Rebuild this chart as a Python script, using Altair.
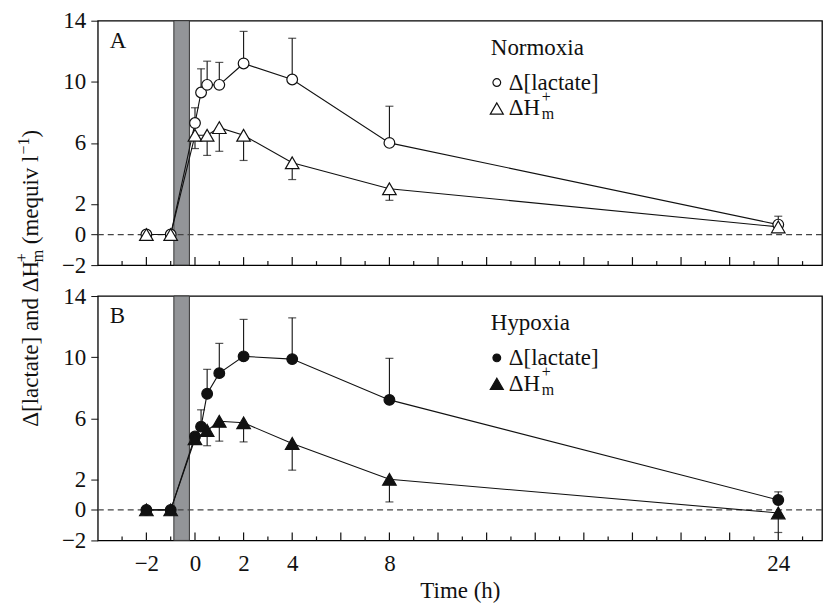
import altair as alt
import pandas as pd

# ---------------- data ----------------
# Normoxia (panel A)
t_lac_n = [-2, -1, 0, 0.25, 0.5, 1, 2, 4, 8, 24]
lac_n = [0.0, 0.0, 7.3, 9.3, 9.8, 9.8, 11.2, 10.15, 6.0, 0.65]
lac_n_err = [0, 0, 1.0, 1.55, 1.55, 1.47, 2.1, 2.7, 2.4, 0.55]      # upward SE
t_h_n = [-2, -1, 0, 0.5, 1, 2, 4, 8, 24]
h_n = [0.0, 0.0, 6.5, 6.5, 7.0, 6.5, 4.7, 3.0, 0.5]
h_n_err = [0, 0, 0.87, 1.32, 1.55, 1.65, 1.1, 0.76, 0]             # downward SE

# Hypoxia (panel B)
t_lac_h = [-2, -1, 0, 0.25, 0.5, 1, 2, 4, 8, 24]
lac_h = [0.0, 0.0, 4.8, 5.45, 7.6, 8.95, 10.05, 9.87, 7.2, 0.65]
lac_h_err = [0, 0, 0, 1.1, 1.6, 1.95, 2.42, 2.7, 2.72, 0.53]
t_h_h = [-2, -1, 0, 0.5, 1, 2, 4, 8, 24]
h_h = [0.0, 0.0, 4.65, 5.2, 5.8, 5.7, 4.35, 2.0, -0.2]
h_h_err = [0, 0, 0, 1.0, 1.3, 1.25, 1.75, 1.48, 1.28]

exposure = [-0.87, -0.23]          # grey bar (exposure period)
x_labels = [-2, 0, 2, 4, 8, 24]
y_labels = [-2, 0, 2, 6, 10, 14]
x_major_ticks = list(range(-2, 26, 2))
x_minor_ticks = list(range(-3, 26, 2))

# ---------------- layout ----------------
W, H = 726, 245
XDOM = [-4, 25.8]
YDOM = [-2, 14]
FONT = "Liberation Serif, Times New Roman, serif"
FS = 23
SFS = 16
INK = "#111111"

xs = alt.Scale(domain=XDOM, nice=False, zero=False)
ys = alt.Scale(domain=YDOM, nice=False, zero=False)
one = pd.DataFrame({"k": [0]})


def txt(s, x, y, size=FS, angle=0, align="left", baseline="middle"):
    kw = dict(text=s, font=FONT, fontSize=size, color=INK, align=align, baseline=baseline)
    if angle:
        kw["angle"] = angle
    return alt.Chart(one).mark_text(**kw).encode(x=alt.value(x), y=alt.value(y))


def panel(t_lac, lac, lac_err, t_h, h, h_err, filled, cond, letter, bottom, ytitle):
    lac_df = pd.DataFrame({"t": t_lac, "v": lac, "e": lac_err})
    lac_df["hi"] = lac_df["v"] + lac_df["e"]
    h_df = pd.DataFrame({"t": t_h, "v": h, "e": h_err})
    h_df["lo"] = h_df["v"] - h_df["e"]
    lac_eb = lac_df[lac_df["e"] > 0]
    h_eb = h_df[h_df["e"] > 0]

    if bottom:
        xaxis = alt.Axis(values=x_labels, title="Time (h)", ticks=False, tickSize=0,
                         domain=False, grid=False, labelPadding=12, titlePadding=4)
    else:
        xaxis = None
    yaxis = alt.Axis(values=y_labels, title=None, tickSize=7, domain=False,
                     grid=False, labelPadding=5)

    def X(f):
        return alt.X(f, type="quantitative", scale=xs, axis=xaxis)

    def Y(f):
        return alt.Y(f, type="quantitative", scale=ys, axis=yaxis)

    rect = alt.Chart(pd.DataFrame({"a": [exposure[0]], "b": [exposure[1]]})).mark_rect(
        fill="#939598", stroke="#333333", strokeWidth=1
    ).encode(x=X("a"), x2="b", y=alt.value(0), y2=alt.value(H))

    zero = alt.Chart(pd.DataFrame({"z": [0]})).mark_rule(
        color="#444444", strokeDash=[6, 4], strokeWidth=1.2
    ).encode(y=Y("z"), x=alt.value(0), x2=alt.value(W))

    tmaj = alt.Chart(pd.DataFrame({"t": x_major_ticks})).mark_rule(color=INK, strokeWidth=1.2).encode(
        x=X("t"), y=alt.value(H), y2=alt.value(H - 8))
    tmin = alt.Chart(pd.DataFrame({"t": x_minor_ticks})).mark_rule(color=INK, strokeWidth=1.2).encode(
        x=X("t"), y=alt.value(H), y2=alt.value(H - 4))

    l_lac = alt.Chart(lac_df).mark_line(color=INK, strokeWidth=1.1).encode(x=X("t"), y=Y("v"))
    l_h = alt.Chart(h_df).mark_line(color=INK, strokeWidth=1.1).encode(x=X("t"), y=Y("v"))

    eb_lac = alt.Chart(lac_eb).mark_rule(color=INK, strokeWidth=1.1).encode(x=X("t"), y=Y("v"), y2="hi")
    cap_lac = alt.Chart(lac_eb).mark_tick(color=INK, orient="horizontal", size=8, thickness=1.2).encode(
        x=X("t"), y=Y("hi"))
    eb_h = alt.Chart(h_eb).mark_rule(color=INK, strokeWidth=1.1).encode(x=X("t"), y=Y("v"), y2="lo")
    cap_h = alt.Chart(h_eb).mark_tick(color=INK, orient="horizontal", size=8, thickness=1.2).encode(
        x=X("t"), y=Y("lo"))

    fill = INK if filled else "white"
    p_lac = alt.Chart(lac_df).mark_point(shape="circle", filled=True, fill=fill, stroke=INK,
                                         strokeWidth=1.2, size=115, opacity=1).encode(x=X("t"), y=Y("v"))
    p_h = alt.Chart(h_df).mark_point(shape="triangle-up", filled=True, fill=fill, stroke=INK,
                                     strokeWidth=1.2, size=185, opacity=1).encode(x=X("t"), y=Y("v"))

    # in-panel legend
    lx, ly = 394, 27
    leg = [
        txt(cond, lx, ly),
        alt.Chart(one).mark_point(shape="circle", filled=True, fill=fill, stroke=INK, strokeWidth=1.2,
                                  size=60, opacity=1).encode(x=alt.value(lx + 6), y=alt.value(ly + 35)),
        txt("\u0394[lactate]", lx + 18, ly + 35),
        alt.Chart(one).mark_point(shape="triangle-up", filled=True, fill=fill, stroke=INK, strokeWidth=1.2,
                                  size=170, opacity=1).encode(x=alt.value(lx + 6), y=alt.value(ly + 61)),
        txt("\u0394H", lx + 18, ly + 61),
        txt("+", lx + 51, ly + 49, size=SFS),
        txt("m", lx + 51, ly + 67, size=SFS),
        txt(letter, 12, 20),
    ]

    layers = [rect, zero, tmaj, tmin, l_lac, l_h, eb_lac, cap_lac, eb_h, cap_h, p_lac, p_h] + leg

    if ytitle:
        bx = -60
        y0 = 261 + 146
        w1 = 7.166 * FS          # "Δ[lactate] and ΔH"
        wm = 0.778 * SFS         # "m"
        sp = 0.25 * FS           # space
        w4 = 3.861 * FS          # "(mequiv l"
        w5 = 1.064 * SFS         # "−1"
        layers += [
            txt("\u0394[lactate] and \u0394H", bx, y0, angle=270, baseline="alphabetic"),
            txt("+", bx - 11, y0 - w1, size=SFS, angle=270, baseline="alphabetic"),
            txt("m", bx + 5, y0 - w1, size=SFS, angle=270, baseline="alphabetic"),
            txt("(mequiv l", bx, y0 - w1 - wm - sp, angle=270, baseline="alphabetic"),
            txt("\u22121", bx - 9, y0 - w1 - wm - sp - w4 - 1, size=SFS, angle=270, baseline="alphabetic"),
            txt(")", bx, y0 - w1 - wm - sp - w4 - w5 - 1, angle=270, baseline="alphabetic"),
        ]

    return alt.layer(*layers).properties(width=W, height=H)


top = panel(t_lac_n, lac_n, lac_n_err, t_h_n, h_n, h_n_err, False, "Normoxia", "A", False, True)
bot = panel(t_lac_h, lac_h, lac_h_err, t_h_h, h_h, h_h_err, True, "Hypoxia", "B", True, False)

chart = alt.vconcat(top, bot, spacing=31, bounds="flush").properties(
    padding={"left": 5, "top": 0, "right": 0, "bottom": 0}
).configure_view(
    stroke="black", strokeWidth=1.3
).configure_axis(
    labelFont=FONT, titleFont=FONT, labelFontSize=FS, titleFontSize=FS,
    labelColor=INK, titleColor=INK, tickColor=INK, titleFontWeight="normal"
)

chart.save("out.html", embed_options={"renderer": "svg", "actions": False})
